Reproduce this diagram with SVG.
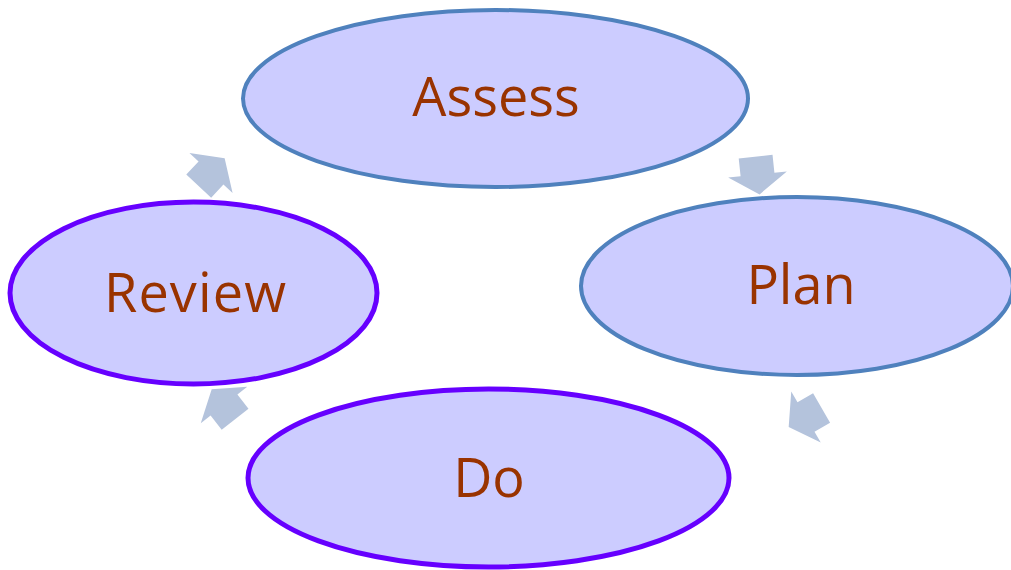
<svg xmlns="http://www.w3.org/2000/svg" width="1011" height="570" viewBox="0 0 1011 570">
<style>
.node{fill:#CCCCFF;}
.blue{stroke:#4F81BD;stroke-width:4;}
.purple{stroke:#6600FF;stroke-width:5;}
.lbl{font-family:"Open Sans","Liberation Sans",sans-serif;font-size:54px;fill:#993300;text-anchor:middle;}
.arr{fill:#B4C3DC;}
</style>
<defs>
<polygon id="arrowShape" points="-18,-17 0,-17 0,-29.5 20,0 0,29.5 0,17 -18,17"/>
</defs>
<rect width="1011" height="570" fill="#FFFFFF"/>
<g id="connectors">
<use href="#arrowShape" class="arr" transform="translate(211,173) rotate(-47)"/>
<use href="#arrowShape" class="arr" transform="translate(757.5,174.5) rotate(84)"/>
<use href="#arrowShape" class="arr" transform="translate(806,417) rotate(150)"/>
<use href="#arrowShape" class="arr" transform="translate(224,405) rotate(-128)"/>
</g>
<g id="assess">
<ellipse class="node blue" cx="495.5" cy="98.5" rx="252.5" ry="88.5"/>
<text class="lbl" x="496" y="116">Assess</text>
</g>
<g id="plan">
<ellipse class="node blue" cx="797" cy="286" rx="216" ry="89"/>
<text class="lbl" x="801" y="304">Plan</text>
</g>
<g id="do">
<ellipse class="node purple" cx="488.5" cy="478" rx="240.5" ry="89"/>
<text class="lbl" x="489" y="497">Do</text>
</g>
<g id="review">
<ellipse class="node purple" cx="193.5" cy="293" rx="183.5" ry="91"/>
<text class="lbl" x="195" y="312" textLength="182">Review</text>
</g>
</svg>
